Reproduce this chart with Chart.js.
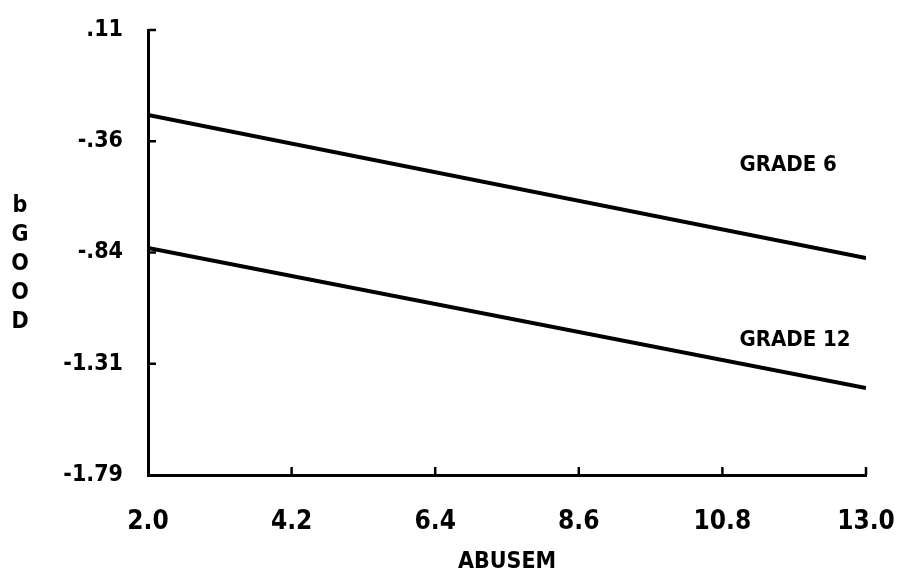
<!DOCTYPE html>
<html>
<head>
<meta charset="utf-8">
<script src="https://cdn.jsdelivr.net/npm/chart.js@4.4.0/dist/chart.umd.min.js"></script>
<style>
  body { margin: 0; background: #fff; }
  #wrap { width: 907px; height: 576px; }
</style>
</head>
<body>
<div id="wrap"><canvas id="chart"></canvas></div>
<script>
// data
const abusem = [2.0, 13.0];
const grade6 = [-0.253, -0.864];
const grade12 = [-0.821, -1.419];
const seriesNames = ['GRADE 6', 'GRADE 12'];

const xTicks = [2.0, 4.2, 6.4, 8.6, 10.8, 13.0];
const xTickLabels = ['2.0', '4.2', '6.4', '8.6', '10.8', '13.0'];
const yTicks = [0.11, -0.365, -0.84, -1.315, -1.79];
const yTickLabels = ['.11', '-.36', '-.84', '-1.31', '-1.79'];
const yTitle = ['b', 'G', 'O', 'O', 'D'];
const xTitle = 'ABUSEM';

const font = '"DejaVu Sans Condensed", "Liberation Sans Narrow", sans-serif';

function toPoints(xs, ys) {
    return xs.map((x, i) => ({ x: x, y: ys[i] }));
}

// inward tick marks, series labels and stacked y title
const extras = {
    id: 'extras',
    afterDraw(chart) {
        const ctx = chart.ctx;
        const xs = chart.scales.x;
        const ys = chart.scales.y;
        const area = chart.chartArea;
        ctx.save();
        ctx.strokeStyle = '#000';
        ctx.lineWidth = 2.5;
        xTicks.forEach((v, i) => {
            if (i === 0) return;
            const px = xs.getPixelForValue(v);
            ctx.beginPath();
            ctx.moveTo(px, area.bottom);
            ctx.lineTo(px, area.bottom - 8);
            ctx.stroke();
        });
        yTicks.forEach((v, i) => {
            if (i === yTicks.length - 1) return;
            const py = ys.getPixelForValue(v);
            ctx.beginPath();
            ctx.moveTo(area.left, py);
            ctx.lineTo(area.left + 8, py);
            ctx.stroke();
        });

        ctx.fillStyle = '#000';
        ctx.font = 'bold 22px ' + font;
        ctx.textAlign = 'left';
        ctx.textBaseline = 'middle';
        // series labels sit above the line ends on the right
        const labelX = xs.getPixelForValue(10.8) + 17;
        ctx.fillText(seriesNames[0], labelX, ys.getPixelForValue(grade6[1]) - 93);
        ctx.fillText(seriesNames[1], labelX, ys.getPixelForValue(grade12[1]) - 48);

        ctx.font = 'bold 23px ' + font;
        ctx.textAlign = 'center';
        yTitle.forEach((ch, i) => {
            ctx.fillText(ch, 20, 206 + i * 29);
        });
        ctx.restore();
    }
};

new Chart(document.getElementById('chart'), {
    type: 'line',
    data: {
        datasets: [
            {
                label: seriesNames[0],
                data: toPoints(abusem, grade6),
                borderColor: '#000',
                borderWidth: 4,
                pointRadius: 0,
                fill: false
            },
            {
                label: seriesNames[1],
                data: toPoints(abusem, grade12),
                borderColor: '#000',
                borderWidth: 4,
                pointRadius: 0,
                fill: false
            }
        ]
    },
    options: {
        responsive: true,
        maintainAspectRatio: false,
        animation: false,
        layout: { padding: { top: 30, right: 41, left: 0, bottom: 0 } },
        plugins: {
            legend: { display: false },
            tooltip: { enabled: false }
        },
        scales: {
            x: {
                type: 'linear',
                min: 2,
                max: 13,
                afterBuildTicks(scale) {
                    scale.ticks = xTicks.map(v => ({ value: v }));
                },
                afterFit(scale) {
                    scale.height = 101;
                    scale.paddingLeft = 0;
                    scale.paddingRight = 0;
                },
                grid: { display: false, drawTicks: false },
                border: { display: true, color: '#000', width: 3 },
                ticks: {
                    color: '#000',
                    padding: 32,
                    maxRotation: 0,
                    font: { family: font, size: 26, weight: 'bold' },
                    callback: (v) => xTickLabels[xTicks.indexOf(v)]
                },
                title: {
                    display: true,
                    text: xTitle,
                    color: '#000',
                    padding: { top: 14, bottom: 0 },
                    font: { family: font, size: 23, weight: 'bold' }
                }
            },
            y: {
                min: -1.79,
                max: 0.11,
                afterBuildTicks(scale) {
                    scale.ticks = yTicks.map(v => ({ value: v }));
                },
                afterFit(scale) {
                    scale.width = 148;
                    scale.paddingTop = 0;
                    scale.paddingBottom = 0;
                },
                grid: { display: false, drawTicks: false },
                border: { display: true, color: '#000', width: 3 },
                ticks: {
                    color: '#000',
                    padding: 25,
                    font: { family: font, size: 23, weight: 'bold' },
                    callback: (v) => yTickLabels[yTicks.indexOf(v)]
                }
            }
        }
    },
    plugins: [extras]
});
</script>
</body>
</html>
